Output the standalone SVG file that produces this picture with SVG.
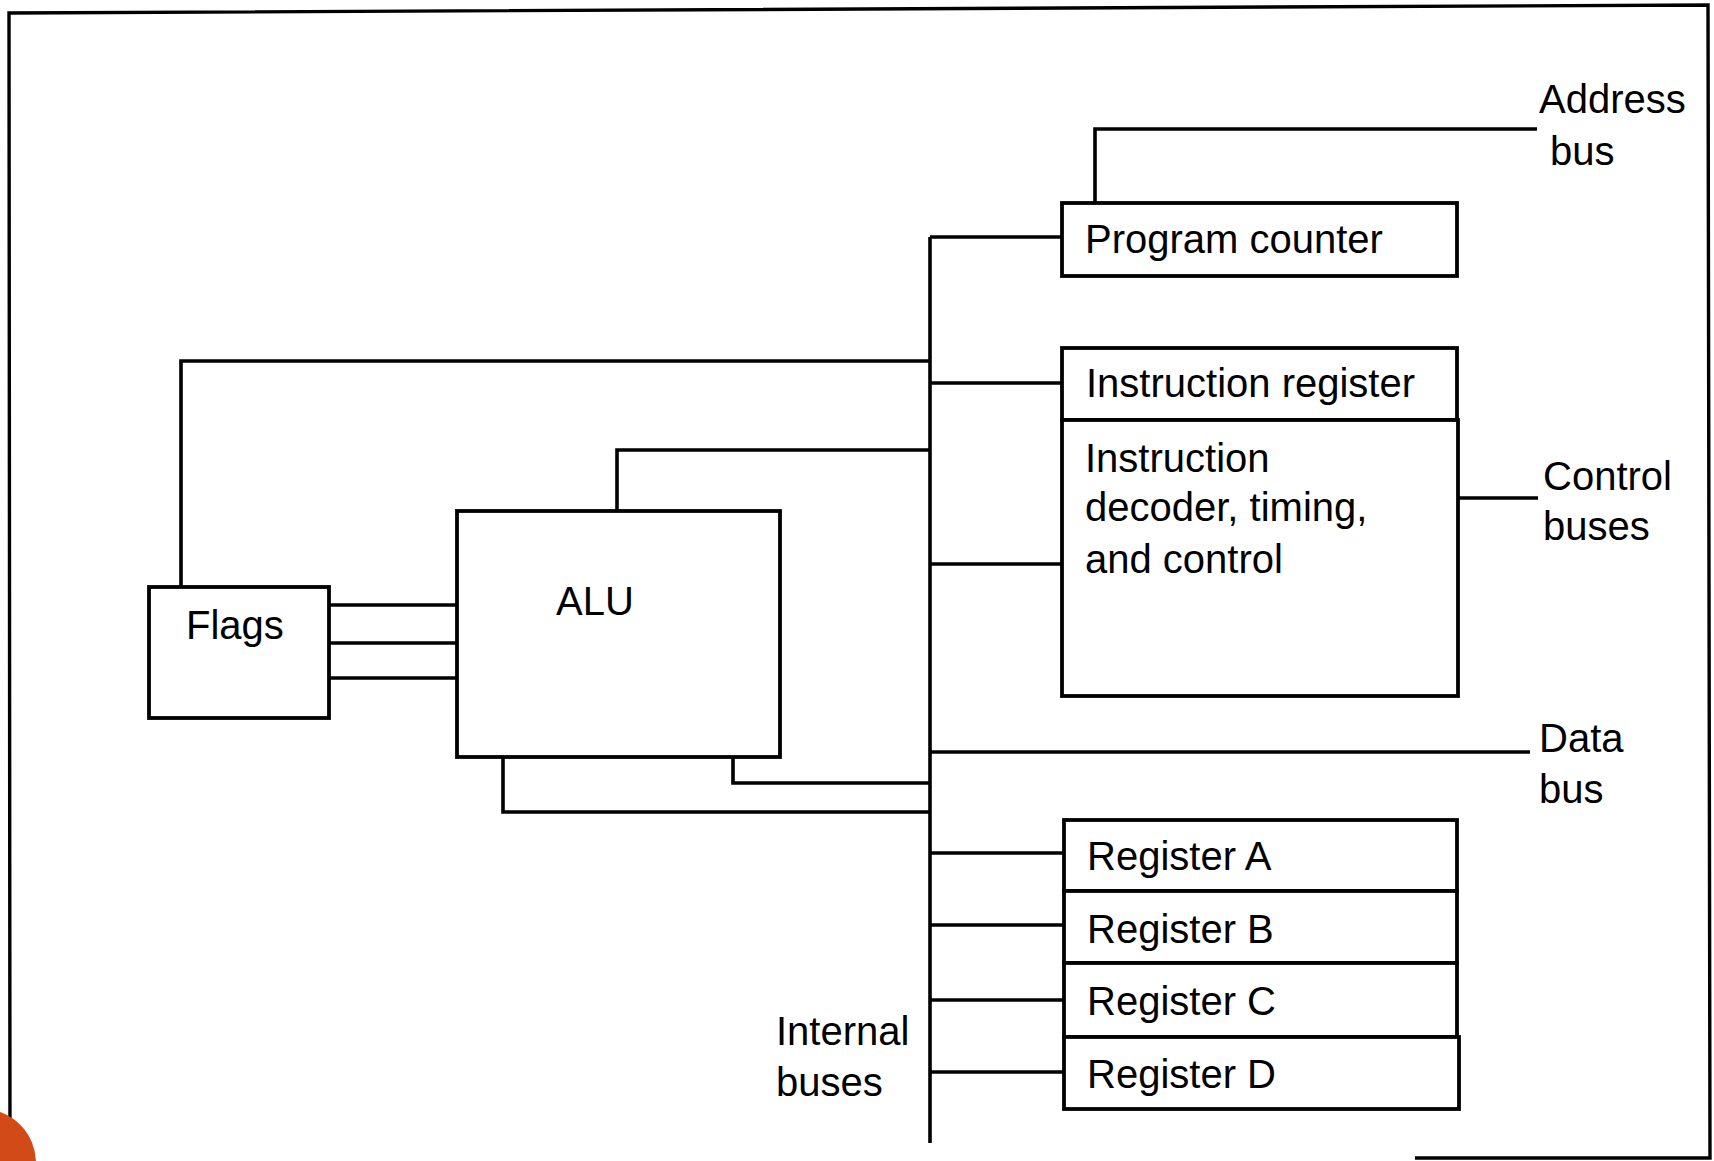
<svg xmlns="http://www.w3.org/2000/svg" width="1714" height="1161" viewBox="0 0 1714 1161">
<style>
  .box { fill: #ffffff; stroke: #000000; stroke-width: 3.8; }
  .wire { fill: none; stroke: #000000; stroke-width: 3.6; stroke-linejoin: miter; }
  .frame { fill: none; stroke: #000000; stroke-width: 3.4; }
  text { font-family: "Liberation Sans", Arial, Helvetica, sans-serif; font-size: 40px; fill: #000000; }
</style>
<rect x="0" y="0" width="1714" height="1161" fill="#ffffff"/>
<path class="frame" d="M10,1161 L9,13 L1708,5 L1710,1158 L1415,1158"/>

<g id="connectors">
  <path class="wire" d="M930,237 V1143"/>
  <path class="wire" d="M930,237 H1062"/>
  <path class="wire" d="M1095,203 V129 H1537"/>
  <path class="wire" d="M181,587 V361 H930"/>
  <path class="wire" d="M930,383 H1062"/>
  <path class="wire" d="M617,511 V450 H930"/>
  <path class="wire" d="M930,564 H1062"/>
  <path class="wire" d="M1458,498 H1538"/>
  <path class="wire" d="M930,752 H1530"/>
  <path class="wire" d="M733,757 V783 H930"/>
  <path class="wire" d="M503,757 V812 H930"/>
  <path class="wire" d="M329,605 H457"/>
  <path class="wire" d="M329,643 H457"/>
  <path class="wire" d="M329,678 H457"/>
  <path class="wire" d="M930,853 H1064"/>
  <path class="wire" d="M930,925 H1064"/>
  <path class="wire" d="M930,1000 H1064"/>
  <path class="wire" d="M930,1072 H1064"/>
</g>

<g id="flags">
  <rect class="box" x="149" y="587" width="180" height="131"/>
  <text x="186" y="639">Flags</text>
</g>
<g id="alu">
  <rect class="box" x="457" y="511" width="323" height="246"/>
  <text x="556" y="615">ALU</text>
</g>
<g id="program-counter">
  <rect class="box" x="1062" y="203" width="395" height="73"/>
  <text x="1085" y="253">Program counter</text>
</g>
<g id="instruction-register">
  <rect class="box" x="1062" y="348" width="395" height="72"/>
  <text x="1086" y="397">Instruction register</text>
</g>
<g id="decoder">
  <rect class="box" x="1062" y="420" width="396" height="276"/>
  <text x="1085" y="472">Instruction</text>
  <text x="1085" y="521">decoder, timing,</text>
  <text x="1085" y="573">and control</text>
</g>
<g id="register-a">
  <rect class="box" x="1064" y="820" width="393" height="71"/>
  <text x="1087" y="870">Register A</text>
</g>
<g id="register-b">
  <rect class="box" x="1064" y="891" width="393" height="72"/>
  <text x="1087" y="943">Register B</text>
</g>
<g id="register-c">
  <rect class="box" x="1064" y="963" width="393" height="74"/>
  <text x="1087" y="1015">Register C</text>
</g>
<g id="register-d">
  <rect class="box" x="1064" y="1037" width="395" height="72"/>
  <text x="1087" y="1088">Register D</text>
</g>

<g id="labels">
  <text x="1539" y="113">Address</text>
  <text x="1550" y="165">bus</text>
  <text x="1543" y="490">Control</text>
  <text x="1543" y="540">buses</text>
  <text x="1539" y="752">Data</text>
  <text x="1539" y="803">bus</text>
  <text x="776" y="1045">Internal</text>
  <text x="776" y="1096">buses</text>
</g>

<circle cx="-18" cy="1163" r="54" fill="#D24A17"/>
</svg>
